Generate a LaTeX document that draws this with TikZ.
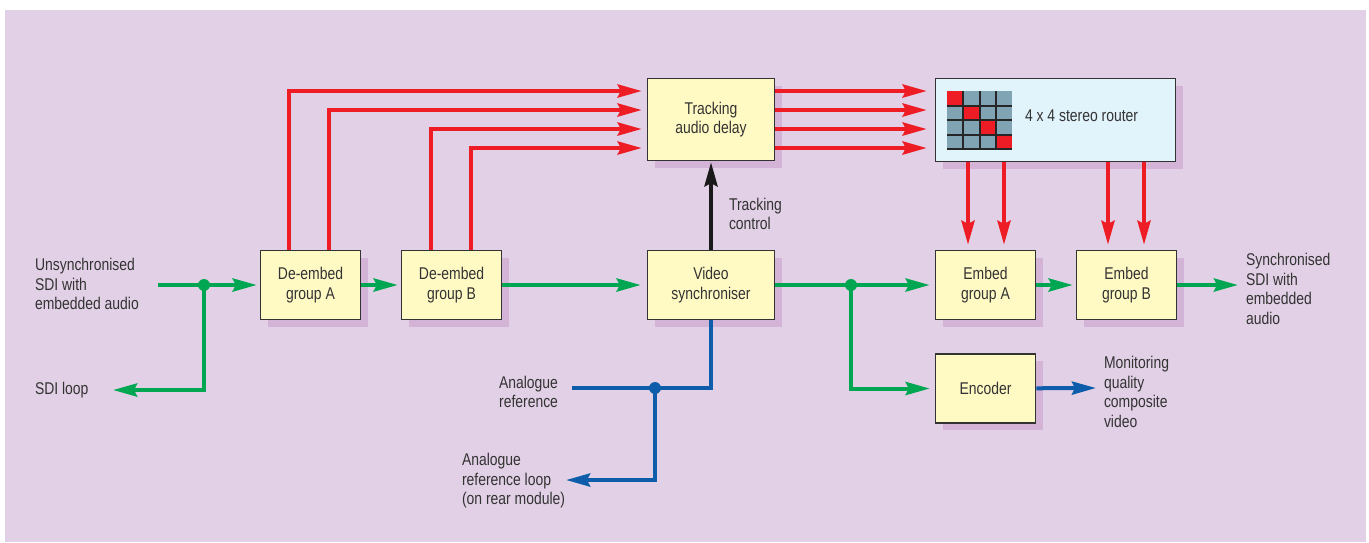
\documentclass[tikz,border=0pt]{standalone}
\usepackage{fontspec}
\setmainfont[FakeStretch=0.82]{Liberation Sans}
\usetikzlibrary{arrows.meta,shadows}

\definecolor{bgpurple}{HTML}{E2D1E6}
\definecolor{shadowpurple}{HTML}{D3B4D7}
\definecolor{boxyellow}{HTML}{FFFAC4}
\definecolor{routerblue}{HTML}{E1F3FB}
\definecolor{cellgrey}{HTML}{80A4B4}
\definecolor{sigred}{HTML}{EE1D25}
\definecolor{siggreen}{HTML}{00A651}
\definecolor{sigblue}{HTML}{0E5DAA}
\definecolor{textgrey}{HTML}{333333}

\tikzset{
	block/.style={draw=black!80, line width=1.5pt, fill=boxyellow, align=center, inner sep=0pt,
		minimum width=100pt, minimum height=69pt,
		general shadow={fill=shadowpurple, shadow xshift=7pt, shadow yshift=-7pt}},
	note/.style={align=left, inner sep=0pt, anchor=west},
	dot/.style={circle, fill, inner sep=0pt, minimum size=12pt},
	redsig/.style={draw=sigred, ->, shorten >=5pt},
	greensig/.style={draw=siggreen, ->, shorten >=3pt},
	bluesig/.style={draw=sigblue, ->, shorten >=2pt}
}

\begin{document}
\begin{tikzpicture}[x=1pt, y=-1pt, line width=4pt, text=textgrey,
	>={Stealth[length=24pt,width=13pt,inset=3pt]},
	font=\fontsize{17}{19.5}\selectfont]
	\useasboundingbox (0,0) rectangle (1369,542);
	\fill[bgpurple] (5,10) rectangle (1366,542);

	\node[block] (DA) at (310.5,285) {De-embed\\group A};
	\node[block] (DB) at (451.5,285) {De-embed\\group B};
	\node[block, minimum width=127pt, minimum height=82pt] (TD) at (711,119.5) {Tracking\\audio delay};
	\node[block, minimum width=127pt] (VS) at (711,285) {Video\\synchroniser};
	\node[block, fill=routerblue, minimum width=240pt, minimum height=83pt] (RT) at (1055.5,120) {};
	\node[block] (EA) at (985.5,285) {Embed\\group A};
	\node[block] (EB) at (1126.5,285) {Embed\\group B};
	\node[block] (EN) at (985.5,388.5) {Encoder};

	% router matrix
	\fill[cellgrey] (947,91) rectangle (1012,149);
	\foreach \i in {0,...,3}
		\fill[sigred] ({947+16.25*\i},{91+14.5*\i}) rectangle ++(16.25,14.5);
	\foreach \k in {1,2,3} {
		\draw[line width=2pt, black!85] ({947+16.25*\k},91) -- ({947+16.25*\k},149);
		\draw[line width=2pt, black!85] (947,{91+14.5*\k}) -- (1012,{91+14.5*\k});
	}
	\draw[line width=2pt, black!85] (947,149) -- (1012,149);
	\node[note] (RTtext) at (1023,116) {4 x 4 stereo router};

	\node[note] (INtext) at (33,284) {Unsynchronised\\SDI with\\embedded audio};
	\node[note] (LOOPtext) at (33,390) {SDI loop};
	\node[note] (TCtext) at (727,214) {Tracking\\control};
	\node[note, anchor=east, align=right] (ARtext) at (560,392) {Analogue\\reference};
	\node[note] (ALtext) at (460,481) {Analogue\\reference loop\\(on rear module)};
	\node[note] (OUTtext) at (1244,289) {Synchronised\\SDI with\\embedded\\audio};
	\node[note] (MONtext) at (1102,392) {Monitoring\\quality\\composite\\video};

	\coordinate (IN) at (158,285);
	\coordinate (LOOP) at (113,390);
	\coordinate (OUT) at (1238,285);
	\coordinate (AREF) at (570,388);
	\coordinate (ALOOP) at (566,480);
	\coordinate (MON) at (1096,388);

	% audio paths
	\draw[redsig] ([xshift=-21.5pt]DA.north) |- ([yshift=28.5pt]TD.west);
	\draw[redsig] ([xshift=18.5pt]DA.north) |- ([yshift=9.5pt]TD.west);
	\draw[redsig] ([xshift=-20.5pt]DB.north) |- ([yshift=-9.5pt]TD.west);
	\draw[redsig] ([xshift=19.5pt]DB.north) |- ([yshift=-28.5pt]TD.west);
	\foreach \d in {28.5,9.5,-9.5,-28.5}
		\draw[redsig, shorten >=8pt] ([yshift=\d pt]TD.east) -- ([yshift=\d pt]TD.east -| RT.west);
	\draw[redsig] ([xshift=-17.5pt]EA.north |- RT.south) -- ([xshift=-17.5pt]EA.north);
	\draw[redsig] ([xshift=18.5pt]EA.north |- RT.south) -- ([xshift=18.5pt]EA.north);
	\draw[redsig] ([xshift=-18.5pt]EB.north |- RT.south) -- ([xshift=-18.5pt]EB.north);
	\draw[redsig] ([xshift=17.5pt]EB.north |- RT.south) -- ([xshift=17.5pt]EB.north);

	% tracking control
	\draw[->, black!90, shorten >=1pt] (VS) -- (TD);

	% video paths
	\draw[greensig] (IN) -- (DA);
	\node[dot, siggreen] (J1) at (204,285) {};
	\draw[greensig, shorten >=0pt] (J1.center) |- (LOOP);
	\draw[greensig] (DA) -- (DB);
	\draw[greensig, shorten >=6pt] (DB) -- (VS);
	\draw[greensig, shorten >=5pt] (VS) -- (EA);
	\node[dot, siggreen] (J2) at (851,285) {};
	\draw[greensig, shorten >=5pt] (J2.center) |- (EN);
	\draw[greensig] (EA) -- (EB);
	\draw[greensig, shorten >=0pt] (EB) -- (OUT);

	% reference paths
	\draw[bluesig, -] (VS.south) |- (AREF);
	\node[dot, sigblue] (J3) at (655,388) {};
	\draw[bluesig, shorten >=0pt] (J3.center) |- (ALOOP);
	\draw[bluesig, shorten >=0pt] (EN) -- (MON);
\end{tikzpicture}
\end{document}
